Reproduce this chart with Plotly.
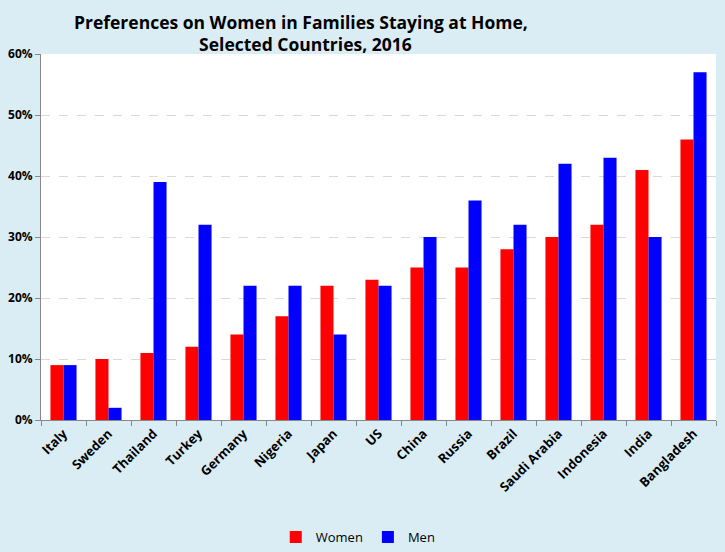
import plotly.graph_objects as go

countries = ["Italy", "Sweden", "Thailand", "Turkey", "Germany", "Nigeria", "Japan", "US",
             "China", "Russia", "Brazil", "Saudi Arabia", "Indonesia", "India", "Bangladesh"]
women = [9, 10, 11, 12, 14, 17, 22, 23, 25, 25, 28, 30, 32, 41, 46]
men = [9, 2, 39, 32, 22, 22, 14, 22, 30, 36, 32, 42, 43, 30, 57]
women_frac = [v / 100 for v in women]
men_frac = [v / 100 for v in men]

bg = "#DAEDF4"
font_family = "Open Sans, Noto Sans, sans-serif"

fig = go.Figure()
fig.add_trace(go.Bar(name="Women", x=countries, y=women_frac, marker_color="#FF0000",
                     marker_line_width=0))
fig.add_trace(go.Bar(name="Men", x=countries, y=men_frac, marker_color="#0000FF",
                     marker_line_width=0))

fig.update_layout(
    width=725, height=552,
    paper_bgcolor=bg, plot_bgcolor="white",
    barmode="group", bargap=0.42, bargroupgap=0,
    margin=dict(l=41, r=9, t=54, b=132, autoexpand=False),
    title=dict(text="<b>Preferences on Women in Families Staying at Home,<br>  Selected Countries, 2016</b>",
               x=0.415, xanchor="center", y=0.948, yanchor="middle", yref="container",
               automargin=False,
               font=dict(family=font_family, size=17.5, color="black")),
    font=dict(family=font_family, color="black"),
    legend=dict(orientation="h", x=0.47, xanchor="center", y=0.027, yanchor="middle",
                yref="container", itemwidth=30, itemsizing="constant",
                font=dict(size=13, family=font_family), bgcolor="rgba(0,0,0,0)",
                traceorder="normal"),
    showlegend=True,
)
fig.update_xaxes(
    tickangle=-45, showline=True, linecolor="#888888", linewidth=1,
    ticks="outside", ticklen=5, tickcolor="#888888",
    tickson="boundaries", automargin=False,
    tickfont=dict(size=13, family=font_family, color="black", weight="bold"),
    showgrid=False,
)
fig.update_yaxes(
    range=[0, 0.6], dtick=0.1, tickformat=".0%", automargin=False,
    showline=True, linecolor="#888888", linewidth=1,
    ticks="outside", ticklen=5, tickcolor="#888888",
    showgrid=True, gridcolor="#D9D9D9", griddash="dash", gridwidth=1,
    tickfont=dict(size=12, family=font_family, color="black", weight="bold"),
    zeroline=False,
)

fig.write_html("out.html", config={"displayModeBar": False},
               post_script="document.body.style.margin='0';")
